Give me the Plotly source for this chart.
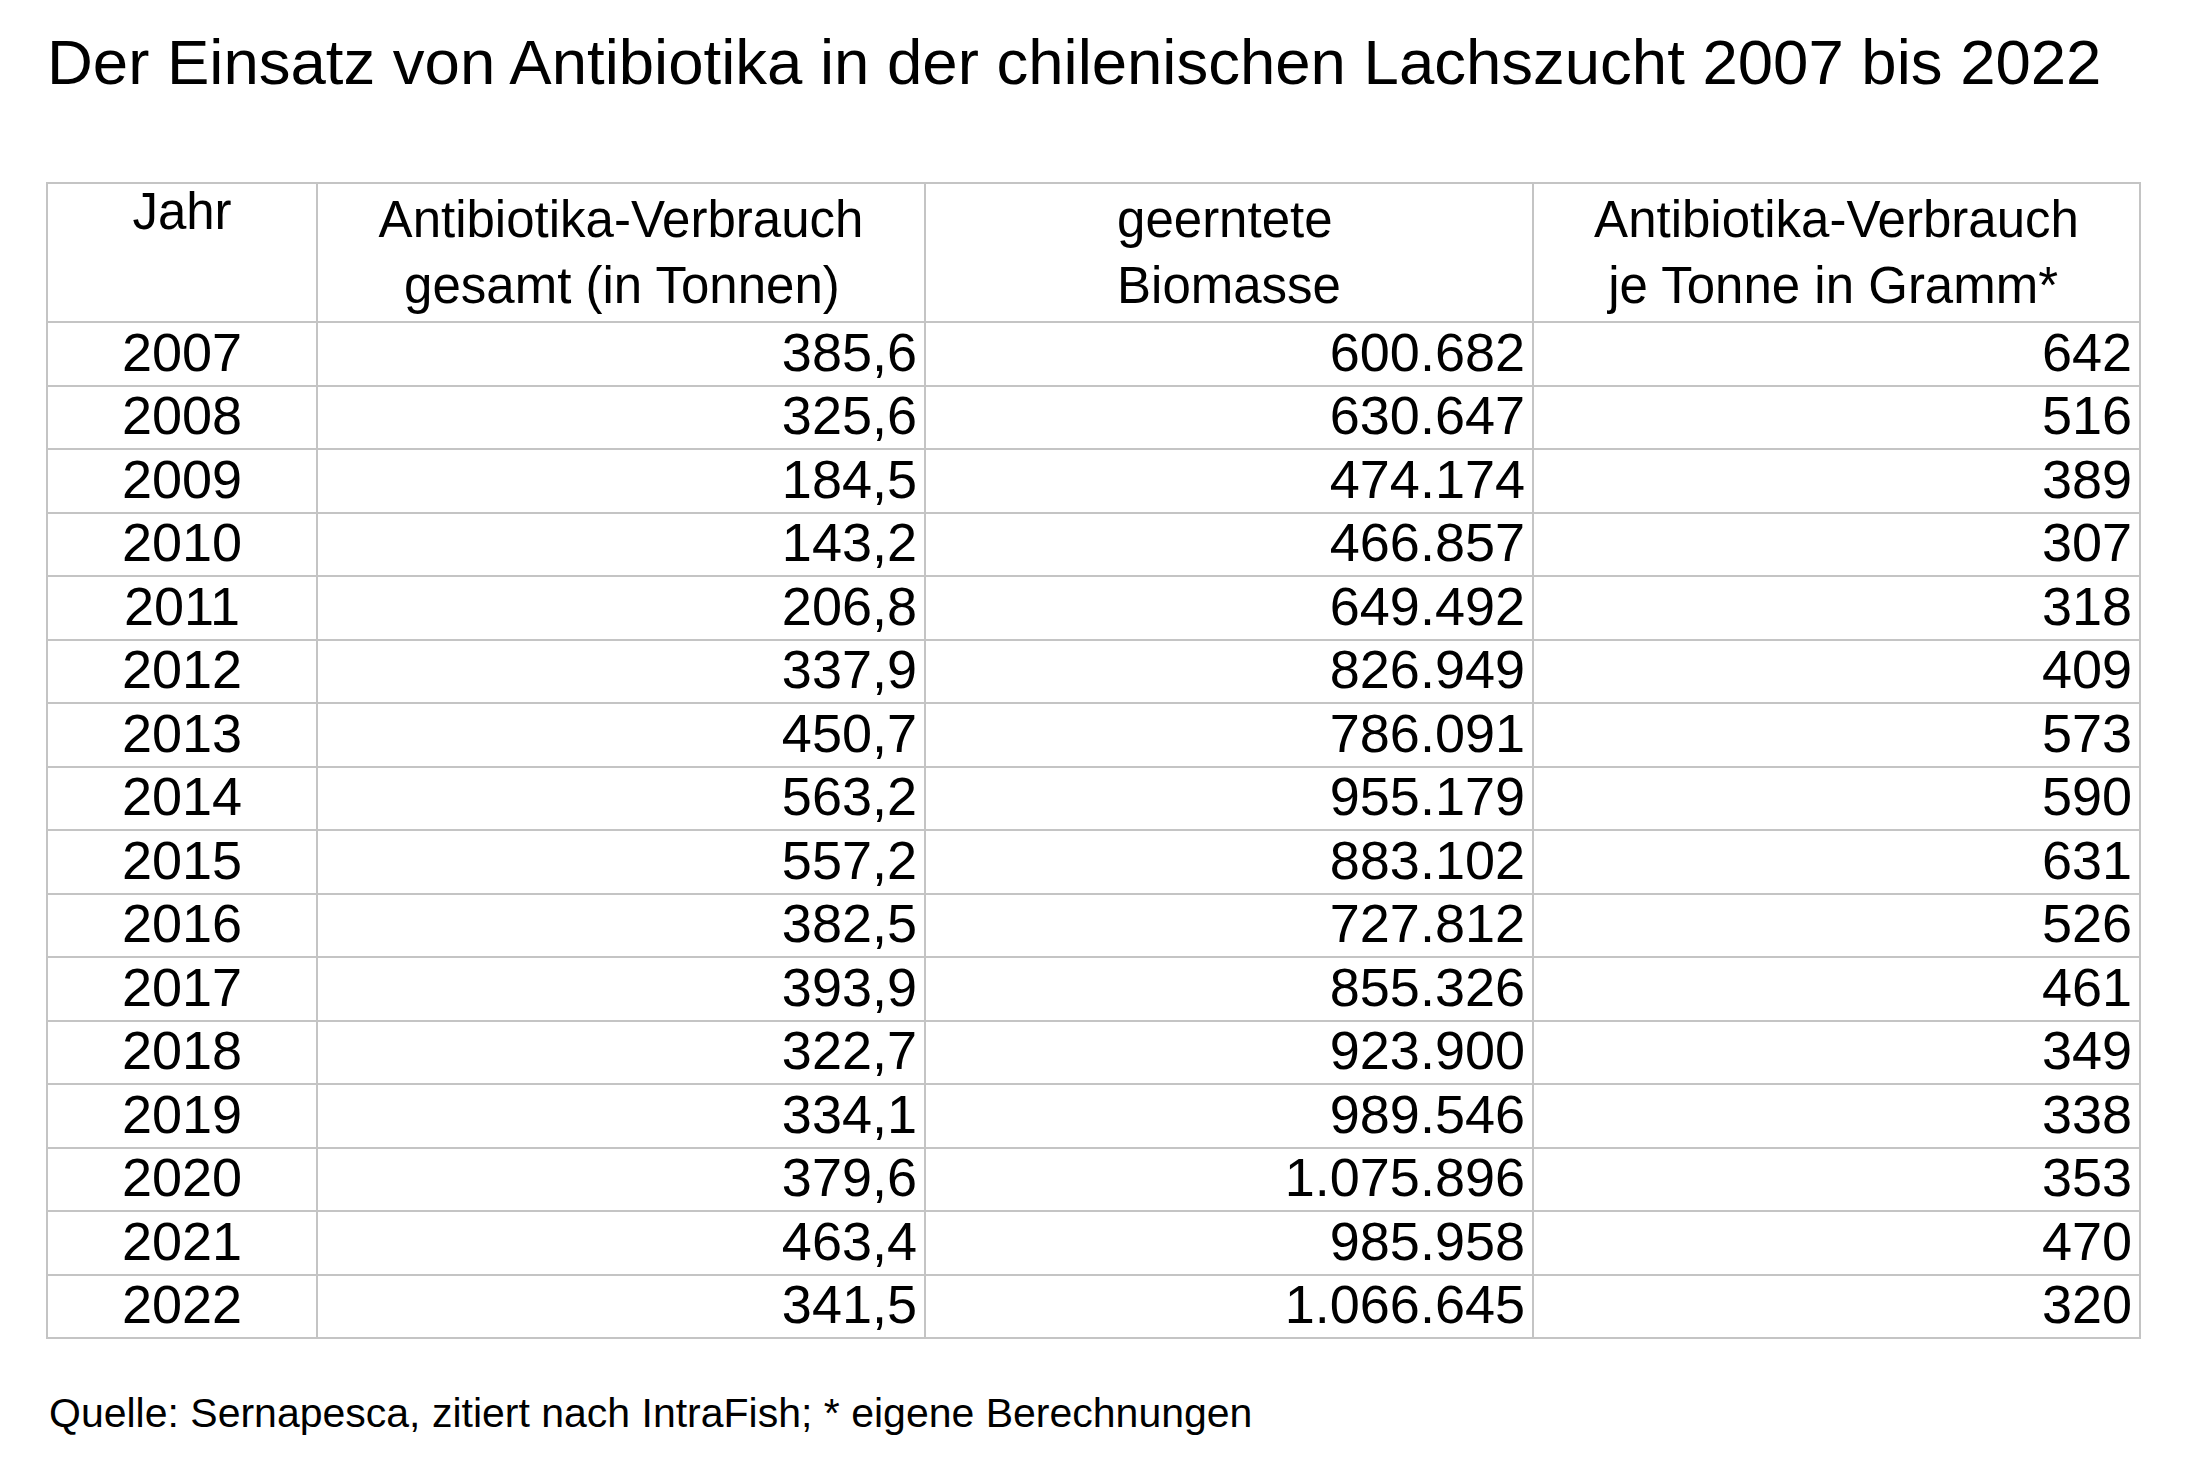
import plotly.graph_objects as go

W, H = 2190, 1480
OFF = 8  # default page body margin shifts the drawing by 8 px

title = "Der Einsatz von Antibiotika in der chilenischen Lachszucht 2007 bis 2022"
source = "Quelle: Sernapesca, zitiert nach IntraFish; * eigene Berechnungen"

header_labels = [
    "Jahr",
    "Antibiotika-Verbrauch<br>\u2002gesamt (in Tonnen)",
    "geerntete<br>Biomasse",
    "Antibiotika-Verbrauch<br>\u00a0je Tonne in Gramm*",
]

years = [2007, 2008, 2009, 2010, 2011, 2012, 2013, 2014,
         2015, 2016, 2017, 2018, 2019, 2020, 2021, 2022]
antibiotics_total_t = [385.6, 325.6, 184.5, 143.2, 206.8, 337.9, 450.7, 563.2,
                       557.2, 382.5, 393.9, 322.7, 334.1, 379.6, 463.4, 341.5]
biomass_t = [600682, 630647, 474174, 466857, 649492, 826949, 786091, 955179,
             883102, 727812, 855326, 923900, 989546, 1075896, 985958, 1066645]
grams_per_tonne = [642, 516, 389, 307, 318, 409, 573, 590,
                   631, 526, 461, 349, 338, 353, 470, 320]


def de_decimal(v):
    return f"{v:.1f}".replace(".", ",")


def de_thousands(v):
    return f"{v:,}".replace(",", ".")


col_years = [str(y) for y in years]
col_total = [de_decimal(v) for v in antibiotics_total_t]
col_biomass = [de_thousands(v) for v in biomass_t]
col_grams = [str(v) for v in grams_per_tonne]

FONT = "Liberation Sans, Arial, Helvetica, sans-serif"
LINE = "#c4c4c4"

fig = go.Figure(
    go.Table(
        domain=dict(x=[(47 - OFF) / W, (2140 - OFF) / W],
                    y=[1 - (1350 - OFF) / H, 1 - (183 - OFF) / H]),
        columnwidth=[270, 608, 608, 607],
        header=dict(
            values=header_labels,
            align=["center", "center", "center", "center"],
            height=130,
            font=dict(family=FONT, size=51, color="black"),
            line=dict(color=LINE, width=2),
            fill=dict(color="white"),
        ),
        cells=dict(
            values=[col_years, col_total, col_biomass, col_grams],
            align=["center", "right", "right", "right"],
            height=63.5,
            font=dict(family=FONT, size=54, color="black"),
            line=dict(color=LINE, width=2),
            fill=dict(color="white"),
        ),
    )
)

fig.update_layout(
    width=W,
    height=H,
    margin=dict(l=0, r=0, t=0, b=0),
    paper_bgcolor="white",
    plot_bgcolor="white",
    title=dict(
        text=title,
        x=(47 - OFF) / W,
        xanchor="left",
        xref="container",
        y=1 - (62 - OFF) / H,
        yanchor="middle",
        yref="container",
        font=dict(family=FONT, size=63.5, color="black"),
    ),
    annotations=[
        dict(
            text=source,
            x=(47 - OFF) / W,
            xanchor="left",
            xref="paper",
            y=1 - (1413 - OFF) / H,
            yanchor="middle",
            yref="paper",
            showarrow=False,
            font=dict(family=FONT, size=41, color="black"),
        )
    ],
)

fig.write_html("out.html")
